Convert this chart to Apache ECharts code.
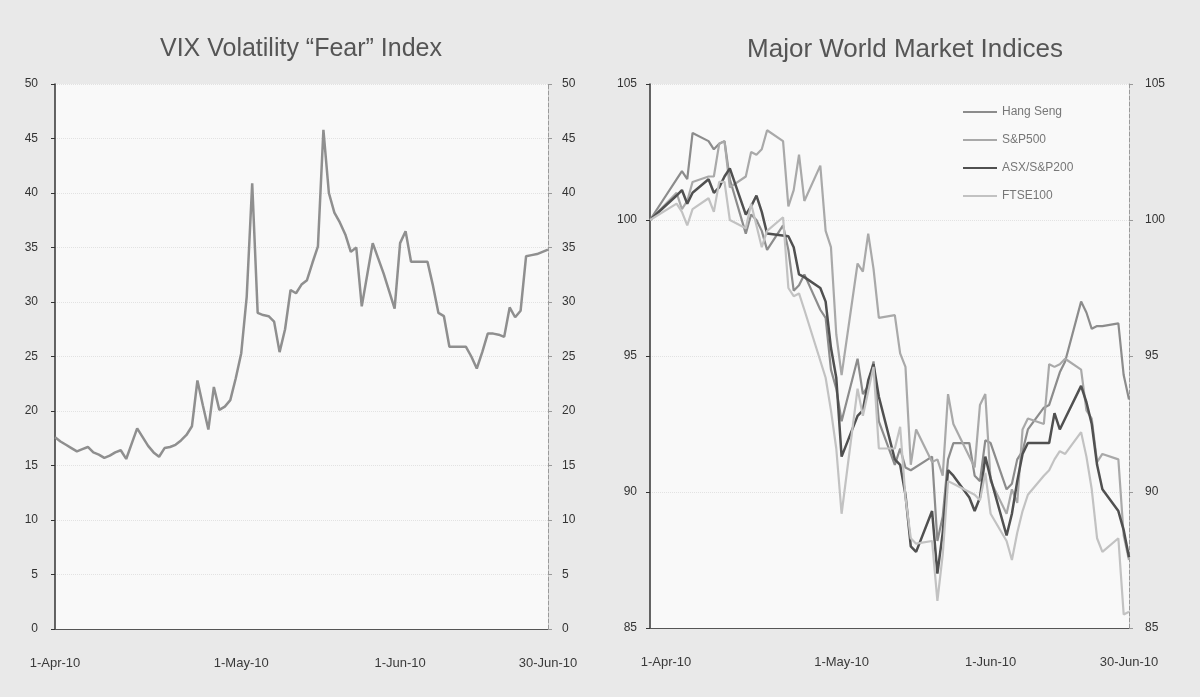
<!DOCTYPE html>
<html>
<head>
<meta charset="utf-8">
<title>VIX and World Market Indices</title>
<script src="https://cdn.jsdelivr.net/npm/echarts@6.0.0/dist/echarts.min.js"></script>
<style>
  html, body { margin: 0; padding: 0; background: #e9e9e9; }
  #chart { width: 1200px; height: 697px; }
</style>
</head>
<body>
<div id="chart"></div>
<script>
// calendar days 1-Apr-10 .. 30-Jun-10 (x axis of both panels)
const days = []
for (let d = new Date(Date.UTC(2010, 3, 1)); d <= new Date(Date.UTC(2010, 5, 30)); d.setUTCDate(d.getUTCDate() + 1)) {
  days.push(d.toISOString().slice(0, 10))
}

const xLabels = ['1-Apr-10', '1-May-10', '1-Jun-10', '30-Jun-10']
const vixLabelAt = [0, 34, 63, 90]
const mktLabelAt = [3, 36, 64, 90]

// VIX, one value per calendar day
const vix = [
  17.6, 17.2, 16.9, 16.6, 16.3, 16.5, 16.7, 16.2, 16.0, 15.7,
  15.9, 16.2, 16.4, 15.6, 17.0, 18.4, 17.6, 16.8, 16.2, 15.8,
  16.6, 16.7, 16.9, 17.3, 17.8, 18.6, 22.8, 20.5, 18.3, 22.2,
  20.1, 20.4, 21.0, 23.0, 25.3, 30.5, 40.9, 29.0, 28.8, 28.7,
  28.2, 25.4, 27.5, 31.1, 30.8, 31.6, 32.0, 33.6, 35.1, 45.8,
  40.0, 38.2, 37.3, 36.2, 34.6, 35.0, 29.6, 32.5, 35.4, 34.0,
  32.6, 31.0, 29.4, 35.4, 36.5, 33.7, 33.7, 33.7, 33.7, 31.5,
  29.0, 28.7, 25.9, 25.9, 25.9, 25.9, 25.0, 23.9, 25.4, 27.1,
  27.1, 27.0, 26.8, 29.5, 28.6, 29.2, 34.2, 34.3, 34.4, 34.6,
  34.8
]

// weekdays; null where that market was closed
const tradeDays = [
  '04-01', '04-02', '04-05', '04-06', '04-07', '04-08', '04-09', '04-12', '04-13', '04-14', '04-15',
  '04-16', '04-19', '04-20', '04-21', '04-22', '04-23', '04-26', '04-27', '04-28', '04-29', '04-30',
  '05-03', '05-04', '05-05', '05-06', '05-07', '05-10', '05-11', '05-12', '05-13', '05-14', '05-17',
  '05-18', '05-19', '05-20', '05-21', '05-24', '05-25', '05-26', '05-27', '05-28', '05-31',
  '06-01', '06-02', '06-03', '06-04', '06-07', '06-08', '06-09', '06-10', '06-11', '06-14', '06-15',
  '06-16', '06-17', '06-18', '06-21', '06-22', '06-23', '06-24', '06-25', '06-28', '06-29', '06-30'
]

const hangSeng = [
  100.0, null, null, null, 101.8, 101.5, 103.2, 102.9, 102.6, 102.8, 102.9,
  101.5, 99.5, 100.2, 100.0, 99.6, 98.9, 99.8, 98.9, 97.4, 97.6, 98.0,
  96.7, 96.4, 94.5, 93.8, 92.6, 94.9, 93.6, 93.9, 94.8, 92.6, 91.0,
  91.6, 90.9, 90.8, null, 91.3, 88.2, 89.1, 91.2, 91.8, 91.8,
  90.6, 90.4, 91.9, 91.8, 90.1, 90.3, 91.2, 91.5, 92.3, 93.1, 93.2,
  null, 94.4, 94.8, 97.0, 96.6, 96.0, 96.1, 96.1, 96.2, 94.3, 93.4
]
const sp500 = [
  100.0, null, 100.8, 101.0, 100.4, 100.7, 101.4, 101.6, 101.6, 102.8, 102.9,
  101.2, 101.6, 102.5, 102.4, 102.6, 103.3, 102.9, 100.5, 101.1, 102.4, 100.7,
  102.0, 99.6, 99.0, 95.8, 94.3, 98.4, 98.1, 99.5, 98.2, 96.4, 96.5,
  95.1, 94.6, 91.0, 92.3, 91.1, 91.2, 90.6, 93.6, 92.5, null,
  90.9, 93.2, 93.6, 90.4, 89.2, 90.1, 89.6, 92.3, 92.7, 92.5, 94.7,
  94.6, 94.7, 94.9, 94.5, 93.0, 92.7, 91.1, 91.4, 91.2, 88.4, 87.5
]
const asx200 = [
  100.0, null, null, 100.9, 101.1, 100.6, 101.0, 101.5, 101.0, 101.2, 101.6,
  101.9, 100.2, 100.5, 100.9, 100.3, 99.5, null, 99.4, 99.0, 98.0, 97.9,
  97.5, 97.0, 95.3, 94.2, 91.3, 92.8, 93.0, 94.1, 94.7, 93.5, 91.2,
  91.0, 89.9, 88.0, 87.8, 89.3, 87.0, 88.5, 90.8, 90.6, 89.8,
  89.3, 89.8, 91.3, 90.5, 88.4, 89.2, 90.4, 91.4, 91.8, null, 91.8,
  92.9, 92.3, 92.7, 93.9, 93.3, 92.5, 91.0, 90.1, 89.3, 88.6, 87.6
]
const ftse100 = [
  100.0, null, null, 100.6, 100.3, 99.8, 100.4, 100.8, 100.3, 101.4, 101.4,
  100.0, 99.7, 100.6, 99.8, 99.0, 99.6, 100.1, 97.5, 97.2, 97.3, 96.7,
  null, 94.2, 93.0, 91.6, 89.2, 93.8, 92.8, 93.7, 94.6, 91.6, 91.6,
  92.4, 89.8, 88.3, 88.1, 88.2, 86.0, 87.7, 90.4, 90.3, null,
  89.9, 89.7, 90.7, 89.2, 88.2, 87.5, 88.5, 89.3, 89.9, 90.6, 90.8,
  91.2, 91.5, 91.4, 92.2, 91.3, 90.1, 88.3, 87.8, 88.3, 85.5, 85.6
]

// spread a trading-day list over the calendar axis
const onCalendar = (vals) => {
  const byDate = {}
  tradeDays.forEach((t, i) => { byDate['2010-' + t] = vals[i] })
  return days.map(d => (d in byDate ? byDate[d] : null))
}

const font = 'Liberation Sans, Arial, sans-serif'

const xAxisFor = (gridIndex, labelAt) => ({
  type: 'category',
  gridIndex,
  data: days,
  boundaryGap: false,
  axisLine: { lineStyle: { color: '#555', width: 1 } },
  axisTick: { show: false },
  axisLabel: {
    interval: (i) => labelAt.includes(i),
    formatter: (v, i) => xLabels[labelAt.indexOf(i)],
    margin: 28,
    fontFamily: font,
    fontSize: 13,
    color: '#3a3a3a'
  },
  splitLine: { show: false }
})

const yAxisFor = (gridIndex, position, min, max, margin) => ({
  type: 'value',
  gridIndex,
  position,
  min,
  max,
  interval: 5,
  axisLine: {
    show: true,
    lineStyle: position === 'left'
      ? { color: '#333', width: 1.5 }
      : { color: '#9a9a9a', width: 1, type: 'dashed' }
  },
  axisTick: { show: true, length: 4, lineStyle: { color: position === 'left' ? '#333' : '#999' } },
  axisLabel: { margin, fontFamily: font, fontSize: 12, color: '#333' },
  splitLine: position === 'left'
    ? { show: true, lineStyle: { color: '#e2e2e2', type: 'dotted' } }
    : { show: false }
})

const chart = echarts.init(document.getElementById('chart'))

chart.setOption({
  backgroundColor: '#e9e9e9',
  animation: false,
  title: [
    {
      text: 'VIX Volatility “Fear” Index',
      left: 296,
      top: 32,
      textAlign: 'center',
      textStyle: { fontFamily: font, fontSize: 25, fontWeight: 'normal', color: '#555' }
    },
    {
      text: 'Major World Market Indices',
      left: 900,
      top: 32,
      textAlign: 'center',
      textStyle: { fontFamily: font, fontSize: 26, fontWeight: 'normal', color: '#555' }
    }
  ],
  legend: {
    orient: 'vertical',
    left: 958,
    top: 101,
    icon: 'rect',
    itemWidth: 34,
    itemHeight: 2,
    itemGap: 16,
    textStyle: { fontFamily: font, fontSize: 12, color: '#777' },
    data: ['Hang Seng', 'S&P500', 'ASX/S&P200', 'FTSE100']
  },
  grid: [
    { left: 55, right: 652, top: 84, bottom: 68, show: true, backgroundColor: '#f9f9f9', borderWidth: 0 },
    { left: 650, right: 71, top: 84, bottom: 69, show: true, backgroundColor: '#f9f9f9', borderWidth: 0 }
  ],
  xAxis: [
    xAxisFor(0, vixLabelAt),
    xAxisFor(1, mktLabelAt)
  ],
  yAxis: [
    yAxisFor(0, 'left', 0, 50, 17),
    yAxisFor(0, 'right', 0, 50, 14),
    yAxisFor(1, 'left', 85, 105, 13),
    yAxisFor(1, 'right', 85, 105, 16)
  ],
  series: [
    {
      name: 'VIX',
      type: 'line',
      xAxisIndex: 0,
      yAxisIndex: 0,
      data: vix,
      showSymbol: false,
      lineStyle: { color: '#8f8f8f', width: 2.5 },
      itemStyle: { color: '#8f8f8f' }
    },
    {
      name: 'Hang Seng',
      type: 'line',
      xAxisIndex: 1,
      yAxisIndex: 2,
      data: onCalendar(hangSeng),
      connectNulls: true,
      showSymbol: false,
      lineStyle: { color: '#8c8c8c', width: 2.2 },
      itemStyle: { color: '#8c8c8c' }
    },
    {
      name: 'S&P500',
      type: 'line',
      xAxisIndex: 1,
      yAxisIndex: 2,
      data: onCalendar(sp500),
      connectNulls: true,
      showSymbol: false,
      lineStyle: { color: '#a9a9a9', width: 2.2 },
      itemStyle: { color: '#a9a9a9' }
    },
    {
      name: 'ASX/S&P200',
      type: 'line',
      xAxisIndex: 1,
      yAxisIndex: 2,
      data: onCalendar(asx200),
      connectNulls: true,
      showSymbol: false,
      lineStyle: { color: '#505050', width: 2.5 },
      itemStyle: { color: '#505050' }
    },
    {
      name: 'FTSE100',
      type: 'line',
      xAxisIndex: 1,
      yAxisIndex: 2,
      data: onCalendar(ftse100),
      connectNulls: true,
      showSymbol: false,
      lineStyle: { color: '#c2c2c2', width: 2.2 },
      itemStyle: { color: '#c2c2c2' }
    }
  ]
})
</script>
</body>
</html>
